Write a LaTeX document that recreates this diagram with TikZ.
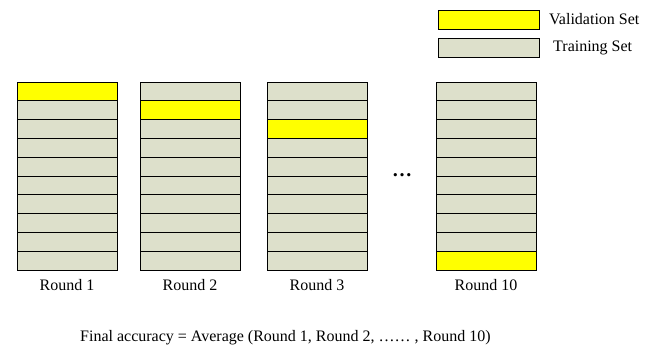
\documentclass[tikz,border=0pt]{standalone}
\usepackage{fontspec}
\setmainfont{Liberation Serif}
\definecolor{valc}{RGB}{255,255,0}
\definecolor{trainc}{RGB}{221,224,203}
\begin{document}
\begin{tikzpicture}[x=1pt,y=-1pt,
  cell/.style={draw=black,line width=0.9pt,minimum width=100pt,minimum height=18.8pt,inner sep=0pt,outer sep=0pt,anchor=north west},
  lbl/.style={font=\fontsize{16}{18}\selectfont,inner sep=0pt},
  legbox/.style={draw=black,line width=0.9pt,minimum width=101pt,minimum height=19pt,inner sep=0pt,anchor=north west}]
\useasboundingbox (0,0) rectangle (656,347);
% legend
\node[legbox,fill=valc] (legv) at (438,10) {};
\node[legbox,fill=trainc] (legt) at (438,38) {};
\node[lbl,anchor=west] (legvt) at (549,19.5) {Validation Set};
\node[lbl,anchor=west] (legtt) at (553,47.5) {Training Set};
% columns
\foreach \c/\x/\v in {1/17/1,2/140/2,3/267/3,10/436/10}{
  \foreach \r in {1,...,10}{
    \ifnum\r=\v
      \node[cell,fill=valc] (c\c r\r) at (\x,{82+(\r-1)*18.8}) {};
    \else
      \node[cell,fill=trainc] (c\c r\r) at (\x,{82+(\r-1)*18.8}) {};
    \fi
  }
  \node[lbl] (round\c) at (\x+50,285.5) {Round \c};
}
\node[inner sep=0pt,font=\fontsize{20}{22}\selectfont\bfseries] (dots) at (402,175) {…};
\node[lbl,anchor=west] (final) at (80,338) {Final accuracy = Average (Round 1, Round 2, …… , Round 10)};
\end{tikzpicture}
\end{document}
